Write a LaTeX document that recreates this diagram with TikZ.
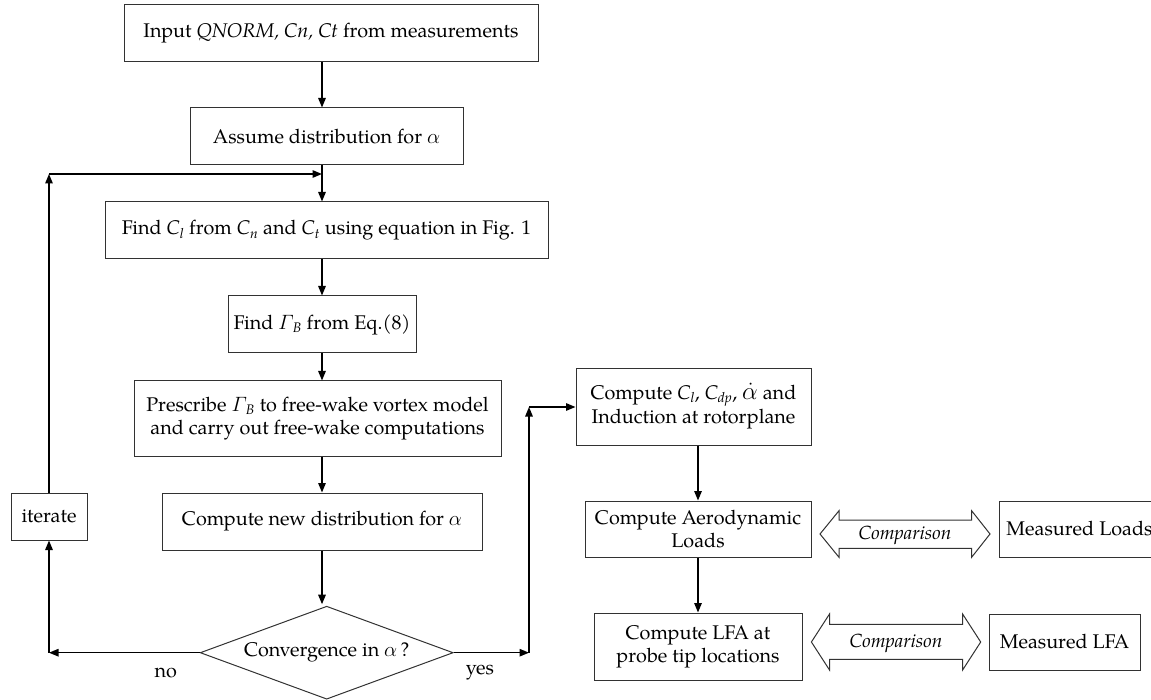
\documentclass[tikz,border=0pt]{standalone}
\usepackage{amsmath}
\usepackage{fontspec}
\setmainfont{TeX Gyre Pagella}
\usetikzlibrary{arrows.meta,shapes.geometric}
\definecolor{boxc}{RGB}{50,50,50}
\newcommand{\fsz}{\fontsize{19.8}{23.4}\selectfont}
\newcommand{\csub}[2]{\textit{#1}\textsubscript{\textit{#2}}}
\newcommand{\gB}{$\varGamma$\kern-1pt\textsubscript{\textit{B}}}
\tikzset{
  box/.style={draw=boxc, line width=1pt, inner sep=0pt, align=center, font=\fsz},
  arr/.style={line width=1.4pt, -{Triangle[length=9.5pt,width=7.5pt]}},
  lbl/.style={font=\fsz, inner sep=0pt},
  cmpshape/.style={draw=boxc, line width=1pt, fill=white}
}
\begin{document}
\begin{tikzpicture}[x=1pt,y=-1pt]
\useasboundingbox (0,0) rectangle (1151,700);
\coordinate (ax) at (322,0);
\coordinate (loop) at (322,174);
% main column
\node[box, minimum width=414pt, minimum height=57pt] (in) at (331,33.5) {Input \textit{QNORM, Cn, Ct} from measurements};
\node[box, minimum width=273pt, minimum height=57pt] (assume) at (326.5,136.5) {Assume distribution for $\alpha$};
\node[box, minimum width=443pt, minimum height=57pt] (findcl) at (326.5,230.5) {Find \csub{C}{l} from \csub{C}{n} and \csub{C}{t} using equation in Fig. 1};
\node[box, minimum width=188pt, minimum height=57pt] (findg) at (322,324.5) {Find \gB{} from Eq.(8)};
\node[box, minimum width=367pt, minimum height=75pt] (presc) at (317.5,418.5) {Prescribe \gB{} to free-wake vortex model\\and carry out free-wake computations};
\node[box, minimum width=320pt, minimum height=57pt] (newd) at (322,521.5) {Compute new distribution for $\alpha$};
\node[draw=boxc, line width=1pt, diamond, aspect=2.72, inner sep=0pt, minimum width=253pt, minimum height=93pt, font=\fsz] (dia) at (326.7,652.7) {Convergence in $\alpha$\,?};
\node[box, minimum width=76pt, minimum height=47pt] (iter) at (49,516.5) {iterate};
% right column
\node[box, minimum width=235pt, minimum height=76pt] (ccl) at (693.5,407) {Compute \csub{C}{l}, \csub{C}{dp}, \smash{\fontsize{25}{23.4}\selectfont$\dot{\alpha}$}\ and\\Induction at rotorplane};
\node[box, minimum width=226pt, minimum height=56pt] (aero) at (698,529) {Compute Aerodynamic\\Loads};
\node[box, minimum width=208pt, minimum height=67pt] (lfa) at (698,646.5) {Compute LFA at\\probe tip locations};
\node[box, minimum width=161pt, minimum height=56pt] (mload) at (1079.5,529) {Measured Loads};
\node[box, minimum width=151pt, minimum height=56pt] (mlfa) at (1064.5,642) {Measured LFA};
% comparison double arrows
\draw[cmpshape] (820,534) -- (839,510.7) -- (839,520) -- (971.6,520) -- (971.6,510.7) -- (990,534)
  -- (971.6,557.3) -- (971.6,548.3) -- (839,548.3) -- (839,557.3) -- cycle;
\node[lbl, font=\fontsize{19}{23}\selectfont\itshape] (cmp1) at (905,535) {Comparison};
\draw[cmpshape] (811.4,642) -- (829.5,614) -- (829.5,624.3) -- (962.6,624.3) -- (962.6,614) -- (980.7,642)
  -- (962.6,670) -- (962.6,659.3) -- (829.5,659.3) -- (829.5,670) -- cycle;
\node[lbl, font=\fontsize{19}{23}\selectfont\itshape] (cmp2) at (896,643) {Comparison};
% connectors main column
\draw[arr] (in.south -| ax) -- (assume.north -| ax);
\draw[arr] (assume.south -| ax) -- (findcl.north -| ax);
\draw[arr] (findcl.south -| ax) -- (findg.north -| ax);
\draw[arr] (findg.south -| ax) -- (presc.north -| ax);
\draw[arr] (presc.south -| ax) -- (newd.north -| ax);
\draw[arr] (newd.south -| ax) -- ([yshift=1.5pt]ax |- dia.north);
% no branch
\coordinate (nocorner) at (iter.south |- dia.west);
\draw[arr] (dia.west) -- (nocorner);
\draw[arr] (nocorner) -- (iter.south);
\draw[arr] (iter.north) -- (iter.north |- loop);
\draw[arr] (iter.north |- loop) -- (loop);
% yes branch
\coordinate (yescorner) at (529,652.7);
\coordinate (yestop) at (529,407);
\draw[arr] (dia.east) -- (yescorner);
\draw[arr] (yescorner) -- (yestop);
\draw[arr] (yestop) -- (ccl.west);
% right column
\draw[arr] (aero.north |- ccl.south) -- (aero.north);
\draw[arr] (aero.south) -- (lfa.north);
% labels
\node[lbl] (no) at (165.7,672.7) {no};
\node[lbl] (yes) at (480,672.7) {yes};
\end{tikzpicture}
\end{document}
